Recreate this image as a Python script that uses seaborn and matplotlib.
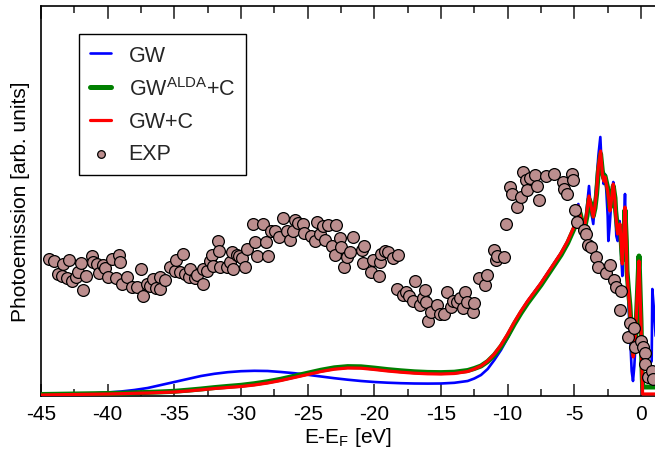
import matplotlib
matplotlib.use("Agg")
import matplotlib.pyplot as plt
import seaborn as sns
from matplotlib.ticker import FixedLocator

# ---------------- data ----------------
# GW spectral function (energy in eV, intensity in arb. units)
gw_e = [-45, -44, -43, -42, -41, -40, -39, -38, -37, -36, -35, -34, -33, -32, -31,
        -30, -29, -28, -27, -26, -25, -24, -23, -22, -21, -20, -19, -18, -17, -16,
        -15, -14, -13, -12.5, -12, -11.5, -11, -10.5, -10, -9.5, -9, -8.5, -8, -7.5,
        -7, -6.5, -6, -5.5,
        -5.0, -4.85, -4.7, -4.55, -4.45, -4.2, -4.05, -3.9, -3.75, -3.58,
        -3.45, -3.33, -3.2, -3.05, -2.95, -2.8, -2.7, -2.6, -2.5, -2.45,
        -2.35, -2.2, -2.08, -1.95, -1.85, -1.75, -1.6, -1.5, -1.4, -1.3,
        -1.2, -1.1, -1.0, -0.9, -0.8, -0.7, -0.6, -0.5, -0.4, -0.3,
        -0.2, -0.1, 0.0, 0.05, 0.3, 0.6, 0.8, 0.85, 0.95, 1.1]
gw_i = [0.012, 0.014, 0.016, 0.020, 0.026, 0.035, 0.045, 0.060, 0.080, 0.110, 0.140,
        0.170, 0.200, 0.222, 0.238, 0.248, 0.252, 0.250, 0.240, 0.228, 0.212, 0.195,
        0.178, 0.163, 0.150, 0.140, 0.133, 0.128, 0.125, 0.124, 0.125, 0.132, 0.150,
        0.175, 0.21, 0.27, 0.36, 0.46, 0.58, 0.72, 0.84, 0.95, 1.04, 1.13, 1.23, 1.33,
        1.43, 1.54,
        1.68, 1.80, 1.92, 1.78, 1.70, 1.70, 1.90, 2.10, 1.85, 1.72,
        1.95, 2.15, 2.40, 2.59, 2.30, 2.12, 2.22, 2.05, 1.80, 1.55,
        1.70, 2.00, 2.14, 1.90, 1.60, 1.55, 1.75, 1.45, 1.20, 1.65,
        2.02, 1.45, 1.10, 0.80, 0.55, 0.25, 0.15, 0.30, 0.55, 0.90,
        1.30, 1.00, 0.50, 0.30, 0.28, 0.30, 0.35, 1.07, 0.90, 0.60]

# GW+C and GW^ALDA+C share the same energy grid
gwc_e = [-45, -44, -43, -42, -41, -40, -39, -38, -37, -36, -35, -34, -33, -32, -31,
         -30, -29, -28, -27, -26, -25, -24, -23, -22, -21, -20, -19, -18, -17, -16,
         -15, -14, -13, -12.5, -12, -11.5, -11, -10.5, -10, -9.5, -9, -8.5, -8, -7.5,
         -7, -6.5, -6, -5.5,
         -5.0, -4.85, -4.7, -4.55, -4.45, -4.2, -4.05, -3.9, -3.75, -3.58,
         -3.45, -3.33, -3.2, -3.03, -2.9, -2.8, -2.7, -2.6, -2.5, -2.4,
         -2.33, -2.2, -2.08, -1.95, -1.9, -1.75, -1.58, -1.5, -1.4, -1.3,
         -1.2, -1.1, -1.05, -0.95, -0.83, -0.7, -0.58, -0.5, -0.4, -0.3,
         -0.15, -0.08, 0.0, 0.06, 0.12, 1.1]
gwc_i = [0.010, 0.012, 0.014, 0.016, 0.018, 0.020, 0.023, 0.027, 0.030, 0.035, 0.040,
         0.050, 0.062, 0.075, 0.085, 0.095, 0.110, 0.130, 0.155, 0.185, 0.215, 0.245,
         0.268, 0.280, 0.278, 0.265, 0.250, 0.238, 0.228, 0.222, 0.220, 0.225, 0.245,
         0.27, 0.30, 0.35, 0.42, 0.51, 0.62, 0.74, 0.85, 0.95, 1.04, 1.13, 1.23, 1.33,
         1.43, 1.55,
         1.70, 1.80, 1.90, 1.80, 1.75, 1.72, 1.85, 2.00, 1.90, 1.79,
         1.90, 2.05, 2.29, 2.45, 2.22, 2.15, 2.19, 2.12, 2.05, 1.95,
         1.85, 1.98, 2.12, 1.95, 1.82, 1.62, 1.72, 1.55, 1.32, 1.60,
         1.89, 1.50, 1.22, 1.05, 0.85, 0.55, 0.39, 0.50, 0.65, 0.95,
         1.35, 1.05, 0.72, 0.35, 0.02, 0.02]
alda_i = [0.015, 0.017, 0.019, 0.021, 0.023, 0.025, 0.028, 0.032, 0.036, 0.041, 0.047,
          0.058, 0.070, 0.084, 0.096, 0.107, 0.123, 0.143, 0.168, 0.198, 0.228, 0.258,
          0.282, 0.294, 0.292, 0.279, 0.264, 0.252, 0.242, 0.236, 0.234, 0.238, 0.255,
          0.275, 0.30, 0.345, 0.41, 0.495, 0.60, 0.72, 0.83, 0.93, 1.02, 1.11, 1.21,
          1.31, 1.41, 1.53,
          1.68, 1.78, 1.88, 1.82, 1.76, 1.70, 1.80, 1.97, 1.92, 1.80,
          1.88, 2.02, 2.25, 2.42, 2.25, 2.18, 2.20, 2.14, 2.08, 1.98,
          1.88, 1.95, 2.10, 1.98, 1.85, 1.66, 1.70, 1.58, 1.36, 1.55,
          1.86, 1.55, 1.25, 1.08, 0.90, 0.60, 0.42, 0.48, 0.62, 0.92,
          1.40, 1.10, 0.75, 0.35, 0.09, 0.09]

# Experimental photoemission data
exp_e = [-44.38, -44.02, -43.70, -43.45, -43.38, -43.08, -42.88, -42.65, -42.38, -42.20,
         -42.03, -41.88, -41.63, -41.20, -41.08, -40.83, -40.63, -40.33, -40.20, -39.95,
         -39.70, -39.38, -39.13, -39.10, -38.95, -38.58, -38.20, -37.83, -37.53, -37.33,
         -37.08, -36.83, -36.58, -36.38, -36.08, -36.05, -35.68, -35.33, -34.95, -34.88,
         -34.58, -34.38, -34.20, -33.88, -33.83, -33.45, -33.28, -32.88, -32.83, -32.58,
         -32.33, -32.20, -32.08, -31.70, -31.63, -31.58, -31.08, -30.83, -30.70, -30.58,
         -30.33, -30.13, -29.95, -29.70, -29.58, -29.08, -28.95, -28.78,
         -28.33, -28.13, -27.95, -27.78, -27.45, -27.13, -26.88, -26.58, -26.33, -26.13,
         -25.95, -25.70, -25.33, -25.28, -24.78, -24.45, -24.28, -24.08, -23.83, -23.70,
         -23.45, -23.20, -22.95, -22.88, -22.58, -22.53, -22.28, -22.03, -21.83, -21.58,
         -20.95, -20.88, -20.78, -20.28, -20.13, -19.63, -19.58, -19.50, -19.20, -18.95,
         -18.63, -18.28, -18.20, -17.83, -17.63, -17.38, -17.08, -16.95, -16.58, -16.38,
         -16.20, -16.15, -15.95, -15.78, -15.33, -15.08, -14.78, -14.58, -14.28, -14.08,
         -13.83, -13.58, -13.38, -13.20, -13.08, -12.58, -12.53, -12.13, -11.70, -11.58,
         -11.03, -10.88, -10.83, -10.28, -10.15, -9.83, -9.70, -9.33, -9.03, -8.88,
         -8.63, -8.53, -8.33, -7.95, -7.83, -7.65, -7.13, -6.53, -5.88, -5.78,
         -5.53, -5.20, -5.13, -4.95, -4.78,
         -4.25, -4.15, -4.00, -3.75, -3.40, -3.20, -2.65, -2.33, -2.00, -1.90,
         -1.58, -1.50, -1.00, -0.83, -0.50, -0.45, 0.00, 0.18, 0.30, 0.32,
         0.50, 0.85, 0.93]
exp_i = [1.37, 1.35, 1.22, 1.20, 1.32, 1.18, 1.36, 1.15, 1.19, 1.24,
         1.33, 1.06, 1.20, 1.40, 1.34, 1.32, 1.23, 1.31, 1.28, 1.19,
         1.37, 1.18, 1.41, 1.34, 1.12, 1.19, 1.09, 1.09, 1.27, 1.00,
         1.12, 1.10, 1.17, 1.08, 1.07, 1.19, 1.16, 1.29, 1.25, 1.36,
         1.24, 1.42, 1.22, 1.19, 1.27, 1.18, 1.21, 1.12, 1.27, 1.25,
         1.35, 1.41, 1.30, 1.55, 1.45, 1.29, 1.29, 1.34, 1.44, 1.27,
         1.41, 1.40, 1.38, 1.29, 1.47, 1.72, 1.54, 1.40,
         1.72, 1.54, 1.40, 1.65, 1.65, 1.59, 1.78, 1.65, 1.56, 1.65,
         1.76, 1.73, 1.72, 1.63, 1.60, 1.55, 1.74, 1.62, 1.70, 1.56,
         1.71, 1.50, 1.41, 1.71, 1.58, 1.49, 1.29, 1.39, 1.44, 1.59,
         1.46, 1.33, 1.50, 1.24, 1.36, 1.20, 1.34, 1.42, 1.45, 1.44,
         1.38, 1.07, 1.41, 1.01, 1.04, 1.00, 0.95, 1.15, 0.91, 0.98,
         1.06, 0.94, 0.75, 0.84, 0.91, 0.82, 0.82, 1.04, 0.89, 0.95,
         0.94, 0.98, 0.88, 1.04, 0.94, 0.84, 0.93, 1.18, 1.11, 1.21,
         1.46, 1.36, 1.40, 1.39, 1.72, 2.09, 2.02, 1.89, 1.99, 2.24,
         2.16, 2.06, 2.18, 2.21, 2.10, 1.96, 2.20, 2.22, 2.14, 2.07,
         2.02, 2.22, 2.16, 1.86, 1.74,
         1.66, 1.62, 1.51, 1.49, 1.39, 1.29, 1.23, 1.31, 1.16, 1.09,
         0.86, 1.05, 0.59, 0.73, 0.68, 0.49, 0.55, 0.49, 0.43, 0.32,
         0.19, 0.25, 0.17]

x_major = [-45, -40, -35, -30, -25, -20, -15, -10, -5, 0]
x_minor = [-42.5, -37.5, -32.5, -27.5, -22.5, -17.5, -12.5, -7.5, -2.5]
x_labels = ["-45", "-40", "-35", "-30", "-25", "-20", "-15", "-10", "-5", "0"]

# ---------------- style ----------------
sns.set_style("ticks", {"xtick.direction": "in", "xtick.top": True})
plt.rcParams["font.family"] = ["Liberation Sans", "DejaVu Sans"]
plt.rcParams["mathtext.fontset"] = "custom"
plt.rcParams["mathtext.rm"] = "Liberation Sans"
plt.rcParams["mathtext.it"] = "Liberation Sans:italic"
plt.rcParams["mathtext.bf"] = "Liberation Sans:bold"

TICK_COLOR = "#444444"

fig = plt.figure(figsize=(6.55, 4.52), dpi=100)
ax = fig.add_axes([41 / 655, 55 / 452, 614 / 655, 390 / 452])

sns.lineplot(x=gw_e, y=gw_i, color="#0000ff", lw=1.9, ax=ax, label="GW",
             estimator=None, sort=False, zorder=2)
sns.lineplot(x=gwc_e, y=alda_i, color="#008000", lw=3.6, ax=ax,
             label=r"GW$^{\mathrm{ALDA}}$+C", estimator=None, sort=False, zorder=3)
sns.lineplot(x=gwc_e, y=gwc_i, color="#ff0000", lw=2.3, ax=ax, label="GW+C",
             estimator=None, sort=False, zorder=4)
sns.scatterplot(x=exp_e, y=exp_i, s=72, color="#bc8e8e", edgecolor="black",
                linewidth=0.9, ax=ax, label="EXP", zorder=5)

ax.set_xlim(-45, 1.05)
ax.set_ylim(0, 3.9)
ax.set_xticks(x_major)
ax.set_xticklabels(x_labels, fontsize=15, color="black")
ax.xaxis.set_minor_locator(FixedLocator(x_minor))
ax.set_yticks([])
ax.tick_params(axis="x", which="major", direction="in", top=True, bottom=True,
               length=9, width=1.1, color=TICK_COLOR, pad=6, labelcolor="black")
ax.tick_params(axis="x", which="minor", direction="in", top=True, bottom=True,
               length=5, width=1.1, color=TICK_COLOR)

# inward tick marks along both horizontal spines (axes-fraction heights)
xtrans = ax.get_xaxis_transform()
for pos, frac in ((x_major, 0.032), (x_minor, 0.018)):
    ax.vlines(pos, 0, frac, transform=xtrans, colors=TICK_COLOR, lw=1.1,
              zorder=1.5, clip_on=False)
    ax.vlines(pos, 1 - frac, 1, transform=xtrans, colors=TICK_COLOR, lw=1.1,
              zorder=1.5, clip_on=False)

for side in ("left", "top", "bottom"):
    ax.spines[side].set_color("black")
    ax.spines[side].set_linewidth(1.2)
ax.spines["right"].set_visible(False)

ax.set_xlabel(r"E-E$_\mathrm{F}$ [eV]", fontsize=15, labelpad=1, color="black")
ax.set_ylabel("Photoemission [arb. units]", fontsize=15, labelpad=8, color="black")

leg = ax.legend(loc="upper left", bbox_to_anchor=(0.062, 0.928), borderaxespad=0,
                fontsize=15.5, frameon=True, fancybox=False, framealpha=1,
                edgecolor="black", handlelength=1.0, handletextpad=0.8,
                labelspacing=0.52, borderpad=0.5, markerscale=0.65)
leg.get_frame().set_linewidth(1.0)

fig.savefig("out.png", dpi=100)
